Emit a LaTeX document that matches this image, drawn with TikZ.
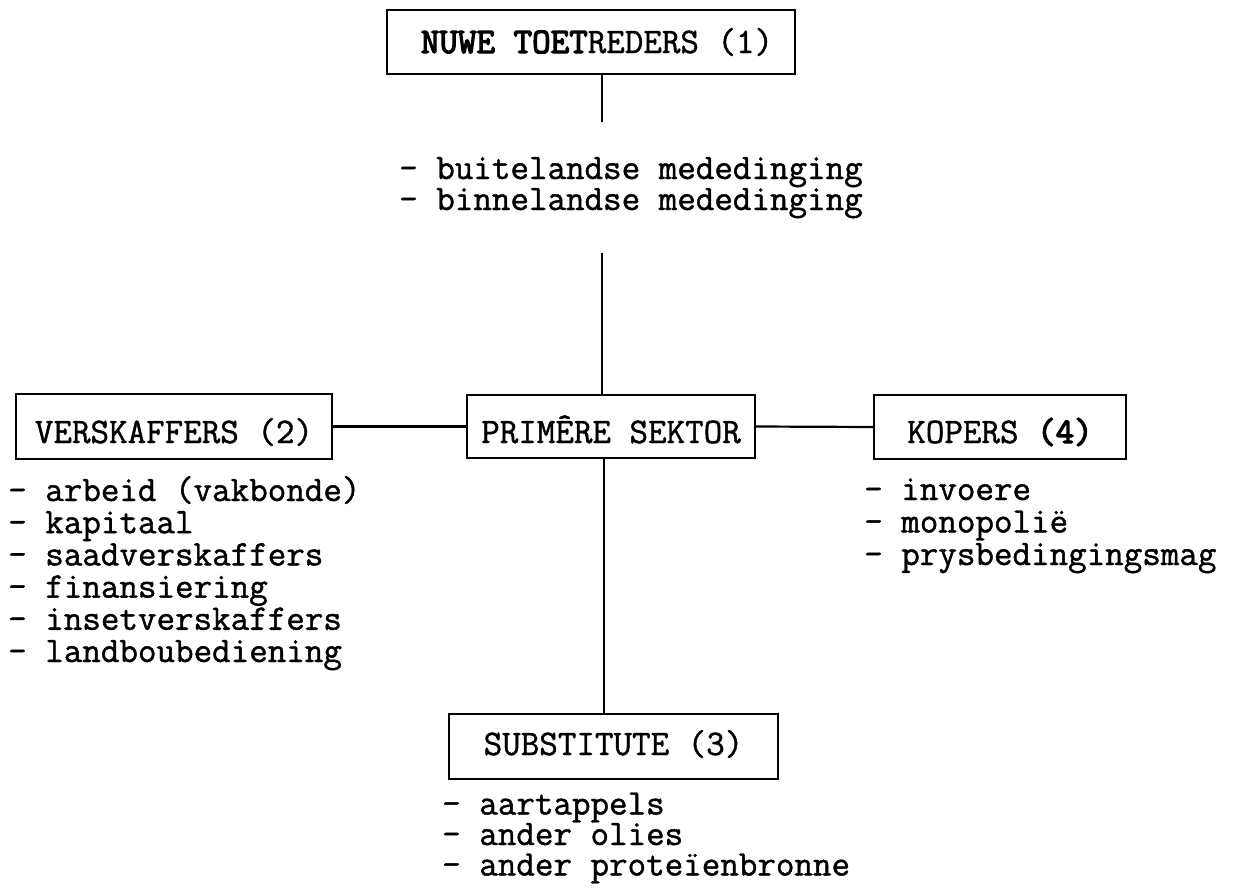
\documentclass[tikz,border=0pt]{standalone}
\usepackage{fontspec}
\newfontfamily\cour{Latin Modern Mono}[FakeBold=1.2]
\newfontfamily\courbf{Latin Modern Mono}[FakeBold=3.5]
\newcommand{\bt}[1]{{\courbf #1}}
\begin{document}
\begin{tikzpicture}[x=1pt,y=-1pt,
  every node/.style={font=\cour\fontsize{36}{32.2}\selectfont},
  box/.style={draw, line width=2.2pt, inner sep=0pt, text depth=0pt},
  lst/.style={anchor=base west, align=left, inner sep=0pt},
  conn/.style={line width=2.2pt}]
\useasboundingbox (0,0) rectangle (1252,891);
% boxes
\node[box, text height=22pt, minimum width=408pt, minimum height=64pt] (nuwe) at (591,42) {\hspace*{12pt}\bt{NUWE TOET}REDERS (1)};
\node[box, text height=33pt, minimum width=316pt, minimum height=65pt] (versk) at (174,426.5) {VERSKAFFERS (2)};
\node[box, text height=33pt, minimum width=288pt, minimum height=63pt] (prim) at (611,426.5) {PRIMÊRE SEKTOR};
\node[box, text height=32pt, minimum width=252pt, minimum height=64pt] (kop) at (1000,427) {KOPERS \bt{(4)}};
\node[box, text height=17pt, minimum width=329pt, minimum height=65pt] (subs) at (613.5,746.5) {SUBSTITUTE (3)};
% lists (anchored at the baseline of their last line)
\node[lst, font=\cour\fontsize{36}{31}\selectfont] (lnuwe) at (399,210) {- buitelandse mededinging\\- binnelandse mededinging};
\node[lst, font=\cour\fontsize{36}{32.2}\selectfont] (lversk) at (8,662) {- arbeid (vakbonde)\\- kapitaal\\- saadverskaffers\\- finansiering\\- insetverskaffers\\- landboubediening};
\node[lst, font=\cour\fontsize{36}{32.5}\selectfont] (lkop) at (864,565) {- invoere\\- monopolië\\- prysbedingingsmag};
\node[lst, font=\cour\fontsize{36}{30.5}\selectfont] (lsubs) at (442,875.5) {- aartappels\\- ander olies\\- ander proteïenbronne};
% connectors
\coordinate (c1) at (602,122);
\coordinate (c2) at (602,253);
\coordinate (c3) at (604,0);
\draw[conn] (nuwe.south -| c1) -- (c1);
\draw[conn] (c2) -- (prim.north -| c2);
\draw[conn] (prim.south -| c3) -- (subs.north -| c3);
\draw[conn] (versk.east) -- (prim.west);
\draw[conn] (prim.east) -- (kop.west);
\end{tikzpicture}
\end{document}
